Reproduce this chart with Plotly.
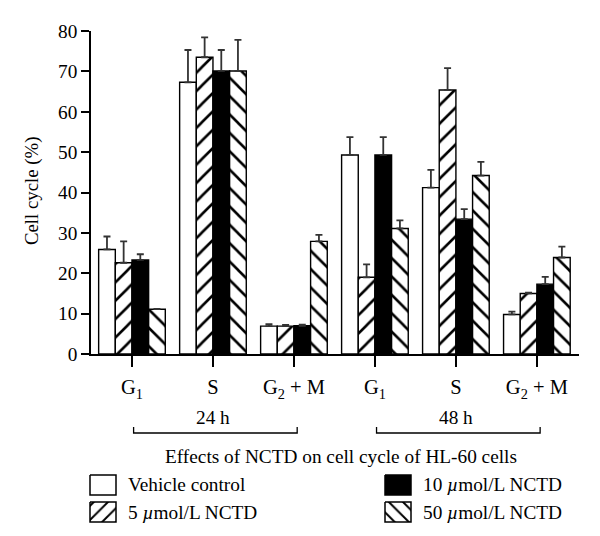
import plotly.graph_objects as go

# ---------------- data ----------------
categories = ["G<sub>1</sub>", "S", "G<sub>2</sub> + M", "G<sub>1</sub>", "S", "G<sub>2</sub> + M"]
series_names = ["Vehicle control", "5 <i>µ</i>mol/L NCTD", "10 <i>µ</i>mol/L NCTD", "50 <i>µ</i>mol/L NCTD"]
vehicle = [25.9, 67.3, 6.9, 49.3, 41.2, 9.8]
vehicle_err = [3.2, 8.0, 0.5, 4.4, 4.4, 0.7]
nctd5 = [22.6, 73.5, 6.9, 19.0, 65.4, 15.0]
nctd5_err = [5.3, 4.9, 0.3, 3.2, 5.4, 0.2]
nctd10 = [23.3, 70.1, 7.0, 49.3, 33.4, 17.3]
nctd10_err = [1.4, 5.2, 0.3, 4.4, 2.5, 1.8]
nctd50 = [11.1, 70.1, 27.9, 31.1, 44.2, 23.9]
nctd50_err = [0.1, 7.7, 1.6, 2.0, 3.4, 2.7]
time_labels = ["24 h", "48 h"]
y_ticks = [0, 10, 20, 30, 40, 50, 60, 70, 80]
chart_title = "Effects of NCTD on cell cycle of HL-60 cells"
y_title = "Cell cycle (%)"

W, H = 600, 536
OFF = 8  # page body margin offset
FONT = "Liberation Serif"
TS = 19.3

def px(x):
    return (x - OFF) / W

def py(y):
    return 1 - (y - OFF) / H

xs = list(range(len(categories)))
values = [vehicle, nctd5, nctd10, nctd50]
errs = [vehicle_err, nctd5_err, nctd10_err, nctd50_err]
styles = [
    dict(color="white", pattern=None),
    dict(color="white", pattern=dict(shape="/", fgcolor="black", bgcolor="white", size=13, solidity=0.2)),
    dict(color="black", pattern=None),
    dict(color="white", pattern=dict(shape="\\", fgcolor="black", bgcolor="white", size=13, solidity=0.2)),
]

fig = go.Figure()
for name, v, e, st in zip(series_names, values, errs, styles):
    marker = dict(color=st["color"], line=dict(color="black", width=1.4))
    if st["pattern"]:
        marker["pattern"] = st["pattern"]
    fig.add_trace(go.Bar(
        x=xs, y=v, name=name, marker=marker, showlegend=False,
        error_y=dict(type="data", array=e, arrayminus=[0] * len(e), symmetric=False,
                     color="#333333", thickness=1.8, width=3.5),
        xaxis="x", yaxis="y",
    ))

# legend swatches drawn on a full-figure overlay axis (pixel coordinates)
legend_boxes = [(90, 475), (90, 502), (385, 475), (385, 502)]
for (bx, by), st in zip(legend_boxes, styles):
    kw = dict(
        x=[bx, bx + 26, bx + 26, bx, bx], y=[by, by, by + 20, by + 20, by],
        mode="lines", fill="toself", line=dict(color="black", width=1.5),
        fillcolor=st["color"], showlegend=False, hoverinfo="skip",
        xaxis="x2", yaxis="y2",
    )
    if st["pattern"]:
        kw["fillpattern"] = dict(shape=st["pattern"]["shape"], fgcolor="black", bgcolor="white",
                                 size=10, solidity=0.2)
    fig.add_trace(go.Scatter(**kw))

annotations = []
legend_text_pos = [(126, 484.5), (126, 512), (421, 484.5), (421, 512)]
for (tx, ty), name in zip(legend_text_pos, series_names):
    annotations.append(dict(x=px(tx), y=py(ty), xref="paper", yref="paper", text=name,
                            showarrow=False, xanchor="left", yanchor="middle",
                            font=dict(family=FONT, size=TS, color="black")))
for i, t in enumerate(time_labels):
    annotations.append(dict(x=1 + 3 * i, y=py(417), xref="x", yref="paper", text=t,
                            showarrow=False, xanchor="center", yanchor="middle",
                            font=dict(family=FONT, size=TS, color="black")))
annotations.append(dict(x=px(341), y=py(456), xref="paper", yref="paper", text=chart_title,
                        showarrow=False, xanchor="center", yanchor="middle",
                        font=dict(family=FONT, size=TS, color="black")))
annotations.append(dict(x=px(32), y=py(191), xref="paper", yref="paper", text=y_title,
                        showarrow=False, textangle=-90, xanchor="center", yanchor="middle",
                        font=dict(family=FONT, size=18.8, color="black")))

shapes = []
for i in range(len(time_labels)):
    x0 = 3 * i + 0.02
    x1 = 3 * i + 2.04
    shapes.append(dict(type="path", xref="x", yref="paper",
                       path=f"M {x0},{py(427)} L {x0},{py(433)} L {x1},{py(433)} L {x1},{py(427)}",
                       line=dict(color="black", width=1.3)))

fig.update_layout(
    template="none",
    width=W, height=H,
    margin=dict(l=0, r=0, t=0, b=0, pad=0, autoexpand=False),
    paper_bgcolor="white", plot_bgcolor="rgba(0,0,0,0)",
    barmode="group", bargap=0.177, bargroupgap=0,
    font=dict(family=FONT, size=TS, color="black"),
    xaxis=dict(domain=[px(91), px(579)], range=[-0.506, 5.52], tickvals=xs, ticktext=categories,
               showline=True, linecolor="black", linewidth=1.5, ticks="outside", ticklen=11,
               tickwidth=1.5, tickcolor="black", showgrid=False, zeroline=False, automargin=False,
               ticklabelstandoff=3, tickfont=dict(family=FONT, size=20.5), anchor="y"),
    yaxis=dict(domain=[py(354), py(31)], range=[0, 80], tickvals=y_ticks,
               showline=True, linecolor="black", linewidth=1.5, ticks="outside", ticklen=8,
               tickwidth=1.5, tickcolor="black", showgrid=False, zeroline=False, automargin=False,
               tickfont=dict(family=FONT, size=TS), anchor="x"),
    xaxis2=dict(domain=[0, 1], range=[OFF, W + OFF], visible=False, anchor="y2", fixedrange=True,
                automargin=False, showgrid=False, zeroline=False),
    yaxis2=dict(domain=[0, 1], range=[H + OFF, OFF], visible=False, anchor="x2", fixedrange=True,
                automargin=False, showgrid=False, zeroline=False),
    annotations=annotations, shapes=shapes,
    showlegend=False,
)

fig.write_html("out.html")
